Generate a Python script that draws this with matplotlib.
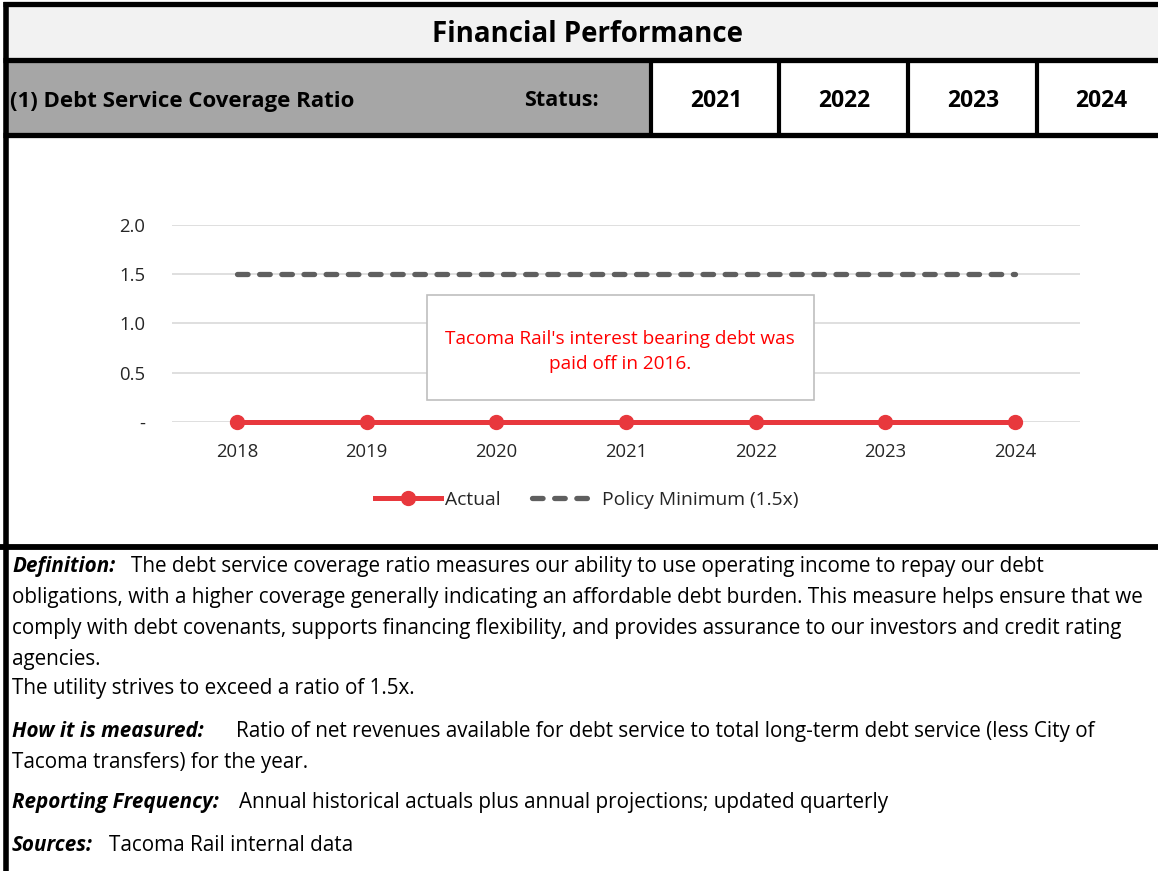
import matplotlib
matplotlib.use("Agg")
import matplotlib.pyplot as plt
from matplotlib.patches import Rectangle
from matplotlib.lines import Line2D

plt.rcParams['font.family'] = ['Open Sans', 'DejaVu Sans']

# data
years = [2018, 2019, 2020, 2021, 2022, 2023, 2024]
actual = [0, 0, 0, 0, 0, 0, 0]
policy_min = [1.5, 1.5, 1.5, 1.5, 1.5, 1.5, 1.5]
header_years = ['2021', '2022', '2023', '2024']
y_ticks = [0, 0.5, 1.0, 1.5, 2.0]
y_tick_labels = ['-', '0.5', '1.0', '1.5', '2.0']
note = "Tacoma Rail's interest bearing debt was\npaid off in 2016."

# (bold label, text, x where the text starts)
body = [
    ("Definition:", "The debt service coverage ratio measures our ability to use operating income to repay our debt", 131),
    (None, "obligations, with a higher coverage generally indicating an affordable debt burden. This measure helps ensure that we", 12),
    (None, "comply with debt covenants, supports financing flexibility, and provides assurance to our investors and credit rating", 12),
    (None, "agencies.", 12),
    (None, "The utility strives to exceed a ratio of 1.5x.", 12),
    ("How it is measured:", "Ratio of net revenues available for debt service to total long-term debt service (less City of", 236),
    (None, "Tacoma transfers) for the year.", 12),
    ("Reporting Frequency:", "Annual historical actuals plus annual projections; updated quarterly", 239),
    ("Sources:", "Tacoma Rail internal data", 109),
]
body_baselines = [572, 603, 634, 665, 694, 737, 768, 808, 851]

W, H = 1158, 871
fig = plt.figure(figsize=(W / 100, H / 100), dpi=100)

# background layer in pixel coordinates
bg = fig.add_axes([0, 0, 1, 1])
bg.set_xlim(0, W)
bg.set_ylim(H, 0)
bg.axis('off')

# header rows
bg.add_patch(Rectangle((5, 5), W, 55, facecolor='#f2f2f2', edgecolor='none'))
bg.add_patch(Rectangle((5, 60), 645, 76, facecolor='#a6a6a6', edgecolor='none'))
for y in [4.5, 60.5, 135.5]:
    bg.plot([3, W], [y, y], color='black', lw=3.8, solid_capstyle='butt')
for x in [650.5, 778.5, 907.5, 1036.5]:
    bg.plot([x, x], [60, 136], color='black', lw=3.0, solid_capstyle='butt')
bg.plot([0, W], [547, 547], color='black', lw=4.2, solid_capstyle='butt')
bg.plot([5.5, 5.5], [2, H], color='black', lw=4.0, solid_capstyle='butt')

bg.text(587, 34, "Financial Performance", fontsize=19.9, fontweight='bold',
        ha='center', va='center')
bg.text(10, 101, "(1) Debt Service Coverage Ratio", fontsize=16, fontweight='bold',
        ha='left', va='center')
bg.text(599, 101, "Status:", fontsize=15.5, fontweight='bold', ha='right', va='center')
for x, lab in zip([716, 844, 973, 1101], header_years):
    bg.text(x, 101, lab, fontsize=16.5, fontweight='bold', ha='center', va='center')

# body text
for (label, rest, x_rest), yb in zip(body, body_baselines):
    if label:
        bg.text(12, yb, label, fontsize=14.9, fontweight='bold', fontstyle='italic',
                ha='left', va='baseline')
    bg.text(x_rest, yb, rest, fontsize=14.9, ha='left', va='baseline')

# chart
left, right, top, bottom = 172, 1080, 225, 422
ax = fig.add_axes([left / W, 1 - bottom / H, (right - left) / W, (bottom - top) / H])
ax.set_xlim(2017.5, 2024.5)
ax.set_ylim(0, 2.0)
for s in ax.spines.values():
    s.set_visible(False)
ax.set_yticks(y_ticks)
ax.set_yticklabels(y_tick_labels)
ax.set_xticks(years)
ax.set_xticklabels([str(y) for y in years])
ax.tick_params(length=0, labelsize=13.3, colors='#262626')
ax.tick_params(axis='y', pad=19)
ax.tick_params(axis='x', pad=15)
ax.grid(axis='y', color='#d9d9d9', lw=1.2)
ax.set_axisbelow(True)

ax.plot(years, policy_min, color='#5f5f5f', lw=3.8, dashes=(2, 2.2),
        dash_capstyle='round', zorder=3)
ax.plot(years, actual, color='#e8383d', lw=3.6, marker='o', markersize=10,
        clip_on=False, zorder=4)

ax.add_patch(Rectangle((0.281, 0.112), 0.426, 0.533, transform=ax.transAxes,
                       facecolor='white', edgecolor='#bfbfbf', lw=1.2, zorder=5))
ax.text(0.4934, 0.36, note, transform=ax.transAxes, color='#ff0000', fontsize=13.7,
        ha='center', va='center', linespacing=1.5, zorder=6)

handles = [
    Line2D([], [], color='#e8383d', lw=3.6, marker='o', markersize=10),
    Line2D([], [], color='#5f5f5f', lw=3.8, dashes=(2, 2.2), dash_capstyle='round'),
]
fig.legend(handles, ['Actual', 'Policy Minimum (1.5x)'], loc='center',
           bbox_to_anchor=(587 / W, 1 - 500 / H), ncol=2, frameon=False,
           fontsize=13.9, handlelength=3.4, handletextpad=0.25, columnspacing=1.6,
           labelcolor='#262626')

fig.savefig('out.png', dpi=100)
